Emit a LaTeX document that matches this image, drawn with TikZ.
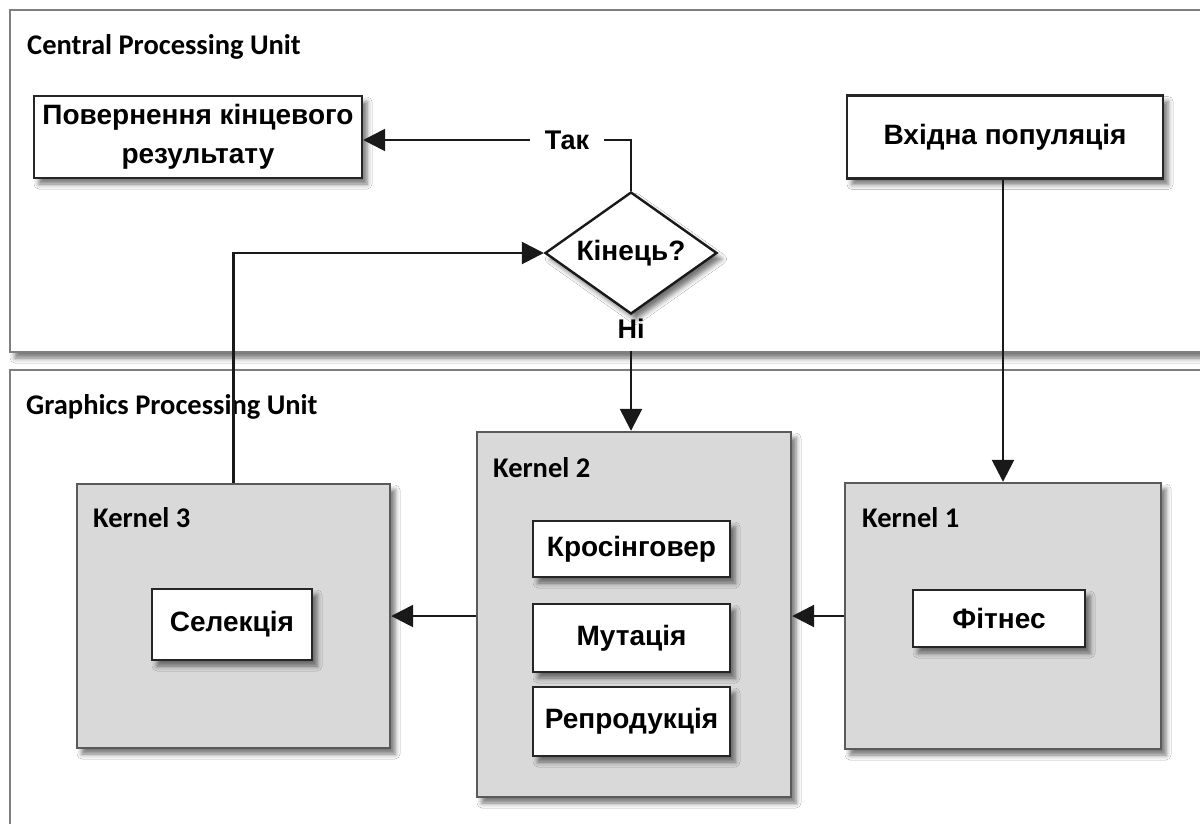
\documentclass[tikz,border=0pt]{standalone}
\usepackage{fontspec}
\setmainfont{Liberation Sans}
\newfontfamily\labelfont{Carlito}
\usetikzlibrary{shapes.geometric,arrows.meta,shadows.blur}

\definecolor{framegray}{HTML}{7F7F7F}
\definecolor{kernelfill}{HTML}{D9D9D9}
\definecolor{kerneldraw}{HTML}{5A5A5A}

\begin{document}
\begin{tikzpicture}[x=1pt,y=-1pt,
  softshadow/.style={blur shadow={shadow xshift=5pt,shadow yshift=-6pt,
      shadow blur radius=5pt,shadow opacity=55}},
  unitframe/.style={draw=framegray,line width=2.2pt,fill=white,
      rectangle,inner sep=0pt,softshadow},
  kernelbox/.style={draw=kerneldraw,line width=2.4pt,fill=kernelfill,
      rectangle,inner sep=0pt,softshadow},
  taskbox/.style={draw=black!85,line width=2.4pt,fill=white,rectangle,
      inner sep=0pt,align=center,softshadow,
      font=\bfseries\fontsize{28}{39}\selectfont},
  unitlabel/.style={anchor=west,inner sep=0pt,
      font=\labelfont\bfseries\fontsize{28.5}{30}\selectfont},
  edgelabel/.style={inner sep=0pt,font=\bfseries\fontsize{27}{30}\selectfont},
  flow/.style={draw=black!90,line width=2.6pt},
  arrowflow/.style={flow,-{Triangle[length=22pt,width=22pt]}},
]
\useasboundingbox (0,0) rectangle (1200,823);
\fill[white] (0,0) rectangle (1200,823);

% processing units
\node[unitframe,minimum width=1200pt,minimum height=342pt] (cpu) at (610,181) {};
\node[unitframe,minimum width=1200pt,minimum height=480pt] (gpu) at (610,610) {};
\node[unitlabel] (cpulabel) at (27,47) {Central Processing Unit};
\node[unitlabel] (gpulabel) at (26,407) {Graphics Processing Unit};

% CPU side
\node[taskbox,minimum width=328pt,minimum height=82pt] (ret) at (198,137)
  {Повернення кінцевого\\результату};
\node[taskbox,minimum width=316pt,minimum height=83pt] (inp) at (1005,137)
  {Вхідна популяція};
\node[draw=black!90,line width=2.4pt,fill=white,shape=diamond,aspect=1.41,
      minimum width=172pt,minimum height=122pt,inner sep=0pt,softshadow,
      font=\bfseries\fontsize{28}{32}\selectfont] (dec) at (631,253) {Кінець?};
\node[edgelabel,inner xsep=15pt] (tak) at (567,140) {Так};
\node[edgelabel] (ni) at (631,329) {Ні};

% kernels
\node[kernelbox,minimum width=313pt,minimum height=264pt] (k3) at (233.5,616) {};
\node[kernelbox,minimum width=314pt,minimum height=365pt] (k2) at (634,614.5) {};
\node[kernelbox,minimum width=316pt,minimum height=266pt] (k1) at (1003,616) {};
\node[unitlabel] (k3label) at (93,518) {Kernel 3};
\node[unitlabel] (k2label) at (493,468) {Kernel 2};
\node[unitlabel] (k1label) at (862,518) {Kernel 1};

\node[taskbox,minimum width=160pt,minimum height=71pt] (sel) at (232,624.5) {Селекція};
\node[taskbox,minimum width=197pt,minimum height=56pt] (cross) at (631.5,549) {Кросінговер};
\node[taskbox,minimum width=197pt,minimum height=68pt] (mut) at (631.5,638) {Мутація};
\node[taskbox,minimum width=197pt,minimum height=69pt] (rep) at (631.5,721.5) {Репродукція};
\node[taskbox,minimum width=172pt,minimum height=57pt] (fit) at (999,618.5) {Фітнес};

% connectors
\draw[arrowflow] (k1.north |- inp.south) -- (k1.north);
\draw[arrowflow] (k1.west) -- (k2.east |- k1.west);
\draw[arrowflow] (k2.west |- k1.west) -- (k3.east |- k1.west);
\draw[arrowflow] (k3.north) |- (dec.west);
\draw[flow] (dec.north) |- (tak.east);
\draw[arrowflow] (tak.west) -- (ret.east |- tak.west);
\draw[arrowflow] ([yshift=-12pt]ni.south) -- (k2.north -| ni.south);
\end{tikzpicture}
\end{document}
